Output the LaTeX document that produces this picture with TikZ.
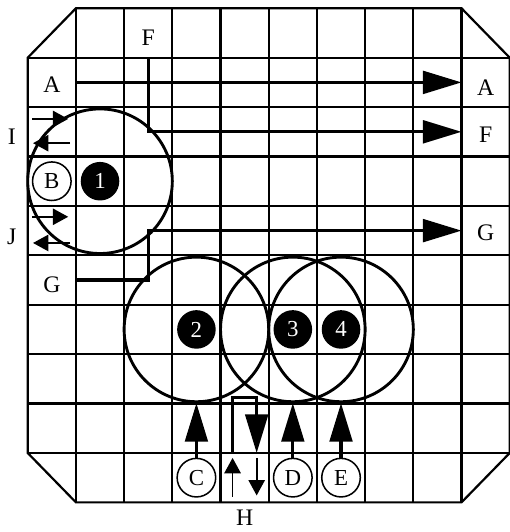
\documentclass[tikz,border=0pt]{standalone}
\usepackage{fontspec}
\setmainfont{Liberation Serif}
\usetikzlibrary{arrows.meta}

\begin{document}
\begin{tikzpicture}[x=1cm, y=1.025cm,
    gridline/.style={line width=1.3pt},
    ring/.style={draw, circle, line width=1.7pt, minimum size=3cm, inner sep=0pt},
    cell/.style={circle, minimum size=0.8cm, inner sep=0pt, font=\fontsize{13.5}{15}\selectfont},
    holder/.style={cell, draw, line width=0.9pt},
    rod/.style={cell, fill=black, text=white},
    tag/.style={font=\fontsize{14}{16}\selectfont},
    bigtip/.style={-{Triangle[length=0.8cm, width=0.47cm]}, line width=1.9pt},
    smalltip/.style={-{Triangle[length=0.32cm, width=0.34cm]}, line width=1pt}]
    \useasboundingbox (-0.575,0.168) rectangle (10,-10.6);

    % core outline and grid
    \draw[gridline] (1,0) -- (9,0) -- (10,-1) -- (10,-9) -- (9,-10) -- (1,-10) -- (0,-9) -- (0,-1) -- cycle;
    \foreach \k in {1,...,9} {
        \draw[gridline] (\k,0) -- (\k,-10);
        \draw[gridline] (0,-\k) -- (10,-\k);
    }

    % rings round the rods
    \node[ring] (ring1) at (1.5,-3.5) {};
    \node[ring] (ring2) at (3.5,-6.5) {};
    \node[ring] (ring3) at (5.5,-6.5) {};
    \node[ring] (ring4) at (6.5,-6.5) {};

    \node[rod] (rod1) at (1.5,-3.5) {1};
    \node[rod] (rod2) at (3.5,-6.5) {2};
    \node[rod] (rod3) at (5.5,-6.5) {3};
    \node[rod] (rod4) at (6.5,-6.5) {4};

    \node[holder] (B) at (0.5,-3.5) {B};
    \node[holder] (C) at (3.5,-9.5) {C};
    \node[holder] (D) at (5.5,-9.5) {D};
    \node[holder] (E) at (6.5,-9.5) {E};

    % labels
    \node[tag] (inA) at (0.5,-1.55) {A};
    \node[tag] (topF) at (2.5,-0.6) {F};
    \node[tag] (inG) at (0.5,-5.6) {G};
    \node[tag] (outA) at (9.5,-1.6) {A};
    \node[tag] (outF) at (9.5,-2.55) {F};
    \node[tag] (outG) at (9.5,-4.55) {G};
    \node[tag] (labI) at (-0.33,-2.6) {I};
    \node[tag] (labJ) at (-0.33,-4.63) {J};
    \node[tag] (labH) at (4.5,-10.32) {H};

    % channels A, F, G
    \coordinate (a0) at (1,-1.5);
    \coordinate (a1) at (9,-1.5);
    \coordinate (f0) at (2.5,-1);
    \coordinate (f1) at (9,-2.5);
    \coordinate (g0) at (1,-5.5);
    \coordinate (g1) at (9,-4.5);
    \draw[bigtip] (a0) -- (a1);
    \draw[bigtip] (f0) |- (f1);
    \draw[bigtip] (g0) -- ++(1.5,0) |- (g1);

    % flows from C, D, E
    \draw[bigtip] (C) -- (ring2.south);
    \draw[bigtip] (D) -- (ring3.south);
    \draw[bigtip] (E) -- (ring4.south);

    % loop H
    \coordinate (h0) at (4.25,-9);
    \coordinate (h1) at (4.75,-9);
    \draw[bigtip] (h0) -- ++(0,1.13) -| (h1);
    \coordinate (hu0) at (4.25,-9.89);
    \coordinate (hu1) at (4.25,-9.1);
    \coordinate (hd0) at (4.75,-9.1);
    \coordinate (hd1) at (4.75,-9.86);
    \draw[smalltip] (hu0) -- (hu1);
    \draw[smalltip] (hd0) -- (hd1);

    % arrows I and J
    \coordinate (i0) at (0.09,-2.24);
    \coordinate (i1) at (0.84,-2.24);
    \coordinate (i2) at (0.88,-2.73);
    \coordinate (i3) at (0.11,-2.73);
    \coordinate (j0) at (0.09,-4.22);
    \coordinate (j1) at (0.84,-4.22);
    \coordinate (j2) at (0.88,-4.75);
    \coordinate (j3) at (0.11,-4.75);
    \draw[smalltip] (i0) -- (i1);
    \draw[smalltip] (i2) -- (i3);
    \draw[smalltip] (j0) -- (j1);
    \draw[smalltip] (j2) -- (j3);
\end{tikzpicture}
\end{document}
